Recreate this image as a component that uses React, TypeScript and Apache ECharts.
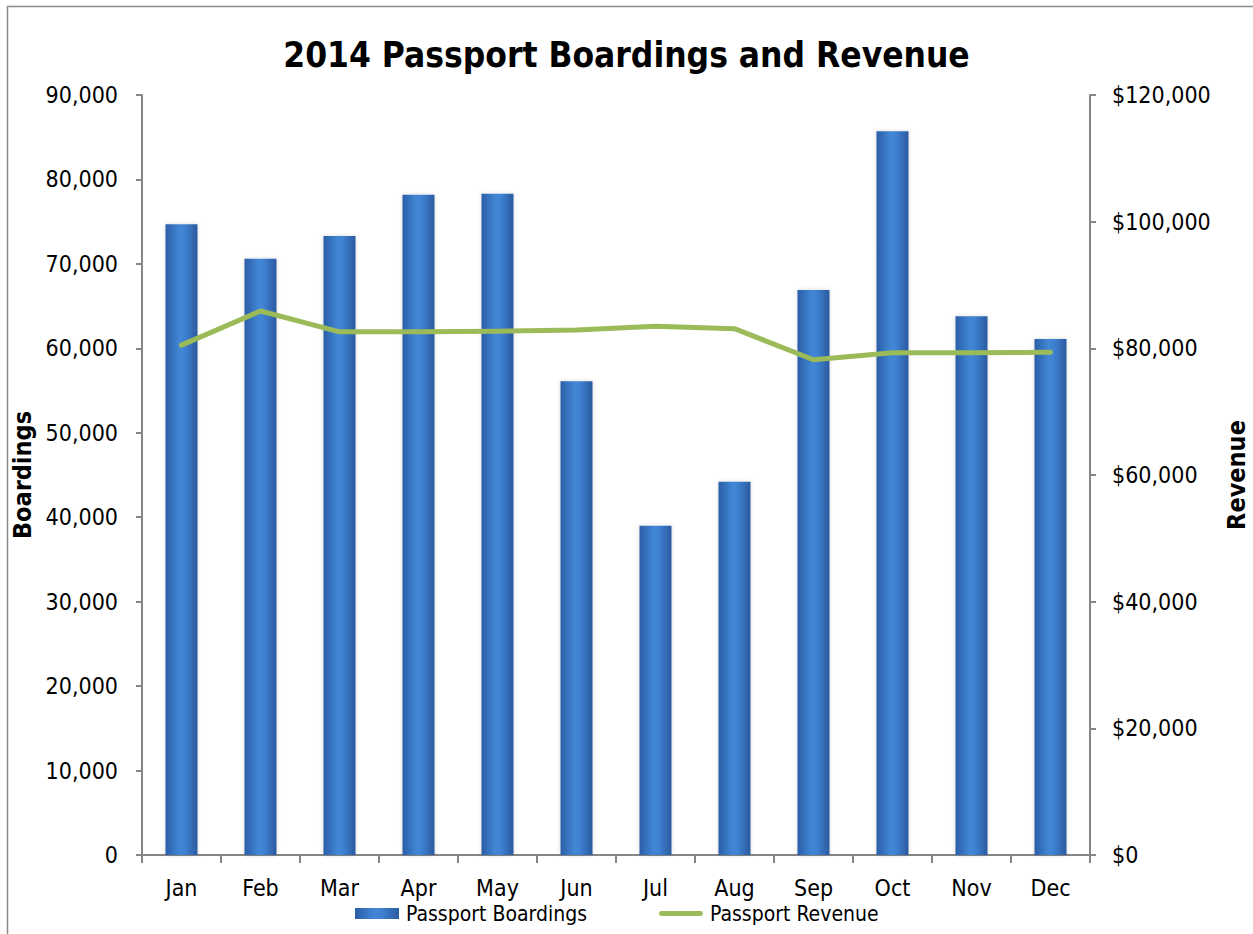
import React, { useEffect, useRef } from "react";
import * as echarts from "echarts";

const months = ["Jan", "Feb", "Mar", "Apr", "May", "Jun", "Jul", "Aug", "Sep", "Oct", "Nov", "Dec"];
const boardings = [74700, 70600, 73300, 78200, 78300, 56100, 39000, 44200, 66900, 85700, 63800, 61100];
const revenue = [80500, 85900, 82600, 82600, 82700, 82900, 83500, 83100, 78200, 79300, 79300, 79400];
const leftTicks = { min: 0, max: 90000, interval: 10000 };
const rightTicks = { min: 0, max: 120000, interval: 20000 };

const FONT = "'Liberation Sans Narrow', 'DejaVu Sans Condensed', 'Arial Narrow', sans-serif";

const fmt = (v: number) => v.toLocaleString("en-US");

export default function App() {
  const ref = useRef<HTMLDivElement>(null);
  useEffect(() => {
    if (!ref.current) return;
    const chart = echarts.init(ref.current, null, { renderer: "svg" });
    const barGrad = new echarts.graphic.LinearGradient(0, 0, 1, 0, [
      { offset: 0, color: "#2b5ea6" },
      { offset: 0.45, color: "#4287d6" },
      { offset: 0.6, color: "#3f82d2" },
      { offset: 1, color: "#2a5a9f" },
    ]);
    chart.setOption({
      animation: false,
      backgroundColor: "#ffffff",
      textStyle: { fontFamily: FONT },
      title: {
        text: "2014 Passport Boardings and Revenue",
        left: "center",
        top: 32,
        textStyle: { fontFamily: FONT, fontSize: 35, fontWeight: "bold", color: "#000" },
      },
      graphic: [
        {
          type: "rect",
          shape: { x: 7.5, y: 6.5, width: 1260, height: 950 },
          style: { fill: "none", stroke: "#8a8a8a", lineWidth: 1.5 },
          silent: true,
        },
      ],
      legend: {
        top: 898,
        left: 350,
        itemGap: 72,
        itemWidth: 44,
        itemHeight: 11,
        textStyle: { fontFamily: FONT, fontSize: 21, color: "#000", padding: [0, 0, 0, 2] },
        data: [
          { name: "Passport Boardings", icon: "rect" },
          { name: "Passport Revenue", icon: "path://M2,0 L42,0 A2.5,2.5 0 0 1 42,5 L2,5 A2.5,2.5 0 0 1 2,0 Z", itemStyle: { color: "#9bbb59" } },
        ],
      },
      grid: { left: 142, right: 163, top: 95, bottom: 79, outerBoundsMode: "none", containLabel: false },
      xAxis: {
        type: "category",
        data: months,
        boundaryGap: true,
        axisLine: { lineStyle: { color: "#868686", width: 2 } },
        axisTick: { show: true, alignWithLabel: false, length: 8, lineStyle: { color: "#868686", width: 2 } },
        axisLabel: { fontFamily: FONT, fontSize: 23, color: "#000", margin: 21 },
      },
      yAxis: [
        {
          type: "value",
          ...leftTicks,
          name: "Boardings",
          nameLocation: "middle",
          nameRotate: 90,
          nameGap: 93,
          nameTextStyle: { fontFamily: FONT, fontSize: 25, fontWeight: "bold", color: "#000" },
          splitLine: { show: false },
          axisLine: { show: true, lineStyle: { color: "#868686", width: 2 } },
          axisTick: { show: true, length: 6, lineStyle: { color: "#868686", width: 2 } },
          axisLabel: { fontFamily: FONT, fontSize: 23, color: "#000", margin: 24, formatter: (v: number) => fmt(v) },
        },
        {
          type: "value",
          ...rightTicks,
          position: "right",
          name: "Revenue",
          nameLocation: "middle",
          nameRotate: 90,
          nameGap: 134,
          nameTextStyle: { fontFamily: FONT, fontSize: 25, fontWeight: "bold", color: "#000" },
          splitLine: { show: false },
          axisLine: { show: true, lineStyle: { color: "#868686", width: 2 } },
          axisTick: { show: true, length: 6, lineStyle: { color: "#868686", width: 2 } },
          axisLabel: { fontFamily: FONT, fontSize: 23, color: "#000", margin: 22, formatter: (v: number) => "$" + fmt(v) },
        },
      ],
      series: [
        {
          name: "Passport Boardings",
          type: "bar",
          yAxisIndex: 0,
          data: boardings,
          barWidth: 32,
          itemStyle: {
            color: barGrad,
            shadowColor: "rgba(0,0,0,0.15)",
            shadowBlur: 4,
          },
        },
        {
          name: "Passport Revenue",
          type: "line",
          yAxisIndex: 1,
          data: revenue,
          symbol: "none",
          lineStyle: { color: "#9bbb59", width: 5, cap: "round", join: "round" },
          itemStyle: { color: "#9bbb59" },
        },
      ],
    });
    return () => chart.dispose();
  }, []);
  return (
    <div
      ref={ref}
      style={{ position: "absolute", left: 0, top: 0, width: 1253, height: 934 }}
    />
  );
}
